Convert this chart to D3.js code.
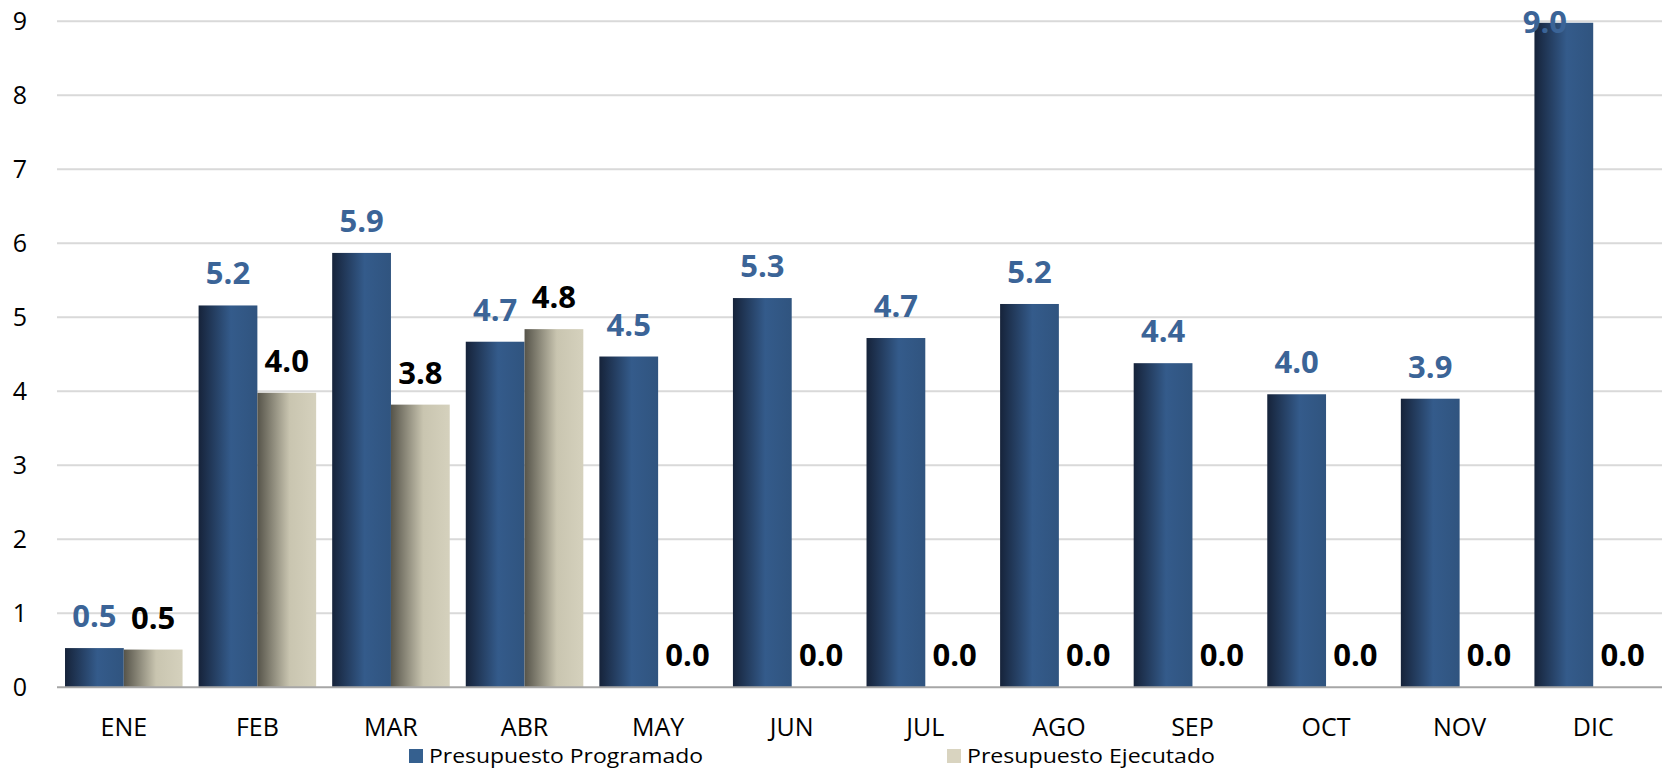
<!DOCTYPE html>
<html>
<head>
<meta charset="utf-8">
<script src="https://cdn.jsdelivr.net/npm/d3@7"></script>
<style>
    body { margin: 0; background: #fff; }
    svg { display: block; }
    text { font-family: "Open Sans", Lato, sans-serif; }
</style>
</head>
<body>
<div id="chart"></div>
<script>
const months = ["ENE", "FEB", "MAR", "ABR", "MAY", "JUN", "JUL", "AGO", "SEP", "OCT", "NOV", "DIC"];
const programado = [0.53, 5.16, 5.87, 4.67, 4.47, 5.26, 4.72, 5.18, 4.38, 3.96, 3.90, 8.98];
const ejecutado = [0.51, 3.98, 3.82, 4.84, 0, 0, 0, 0, 0, 0, 0, 0];
const seriesNames = ["Presupuesto Programado", "Presupuesto Ejecutado"];
const yTicks = [0, 1, 2, 3, 4, 5, 6, 7, 8, 9];

(function () {
    const w = 1662, h = 768;

    const svg = d3.select("#chart")
        .append("svg")
        .attr("width", w)
        .attr("height", h);

    const defs = svg.append("defs");
    const blueGrad = defs.append("linearGradient").attr("id", "gBlue");
    blueGrad.append("stop").attr("offset", "0%").attr("stop-color", "#16233a");
    blueGrad.append("stop").attr("offset", "55%").attr("stop-color", "#345b8b");
    blueGrad.append("stop").attr("offset", "100%").attr("stop-color", "#30547f");
    const grayGrad = defs.append("linearGradient").attr("id", "gGray");
    grayGrad.append("stop").attr("offset", "0%").attr("stop-color", "#56544a");
    grayGrad.append("stop").attr("offset", "55%").attr("stop-color", "#c9c5b0");
    grayGrad.append("stop").attr("offset", "100%").attr("stop-color", "#d5d1bd");

    const x = d3.scaleBand()
        .domain(months)
        .range([57, 1660])
        .paddingInner(0.12)
        .paddingOuter(0.06);

    const xSub = d3.scaleBand()
        .domain([0, 1])
        .range([0, x.bandwidth()]);

    const y = d3.scaleLinear()
        .domain([0, 9])
        .range([687.3, 21.3]);

    // gridlines
    svg.append("g")
        .selectAll("line")
        .data(yTicks.filter(t => t > 0))
        .enter()
        .append("line")
        .attr("x1", 57)
        .attr("x2", w)
        .attr("y1", d => y(d))
        .attr("y2", d => y(d))
        .attr("stroke", "#d9d9d9")
        .attr("stroke-width", 2);

    // y tick labels
    svg.append("g")
        .selectAll("text")
        .data(yTicks)
        .enter()
        .append("text")
        .attr("x", 27)
        .attr("y", d => y(d))
        .attr("dy", "0.36em")
        .attr("text-anchor", "end")
        .attr("font-size", 25)
        .attr("fill", "#000")
        .text(d => d);

    const rows = months.map((m, i) => [
        { m, s: 0, v: programado[i] },
        { m, s: 1, v: ejecutado[i] }
    ]);

    const groups = svg.append("g")
        .selectAll("g")
        .data(rows)
        .enter()
        .append("g")
        .attr("transform", d => `translate(${x(d[0].m)},0)`);

    groups.selectAll("rect")
        .data(d => d.filter(e => e.v > 0))
        .enter()
        .append("rect")
        .attr("x", d => xSub(d.s))
        .attr("width", xSub.bandwidth())
        .attr("y", d => y(d.v))
        .attr("height", d => y(0) - y(d.v))
        .attr("fill", d => d.s === 0 ? "url(#gBlue)" : "url(#gGray)");

    // baseline
    svg.append("line")
        .attr("x1", 57)
        .attr("x2", w)
        .attr("y1", y(0))
        .attr("y2", y(0))
        .attr("stroke", "#a6a6a6")
        .attr("stroke-width", 2);

    // value labels (9.0 gets pushed inside the bar top, like Excel does)
    groups.selectAll("text.val")
        .data(d => d)
        .enter()
        .append("text")
        .attr("class", "val")
        .attr("x", d => {
            const cx = xSub(d.s) + xSub.bandwidth() / 2;
            return y(d.v) - 21 < 33 ? cx - 19 : cx;
        })
        .attr("y", d => Math.max(y(d.v) - 21, 33))
        .attr("text-anchor", "middle")
        .attr("font-size", 31)
        .attr("font-weight", "bold")
        .attr("fill", d => d.s === 0 ? "#3b6497" : "#000")
        .text(d => d.v.toFixed(1));

    // x labels
    svg.append("g")
        .selectAll("text")
        .data(months)
        .enter()
        .append("text")
        .attr("x", d => x(d) + x.bandwidth() / 2)
        .attr("y", 736)
        .attr("text-anchor", "middle")
        .attr("font-size", 25)
        .attr("fill", "#000")
        .text(d => d);

    // legend
    const legendX = [409, 947];
    const legendLen = [274, 248];
    const legend = svg.append("g")
        .selectAll("g")
        .data(seriesNames)
        .enter()
        .append("g")
        .attr("transform", (d, i) => `translate(${legendX[i]},749)`);
    legend.append("rect")
        .attr("width", 14)
        .attr("height", 14)
        .attr("fill", (d, i) => i === 0 ? "#35608f" : "#d9d4c0");
    legend.append("text")
        .attr("x", 20)
        .attr("y", 14)
        .attr("font-family", "Lato, sans-serif")
        .attr("font-size", 20)
        .attr("textLength", (d, i) => legendLen[i])
        .attr("lengthAdjust", "spacingAndGlyphs")
        .attr("fill", "#000")
        .text(d => d);
})()
</script>
</body>
</html>
